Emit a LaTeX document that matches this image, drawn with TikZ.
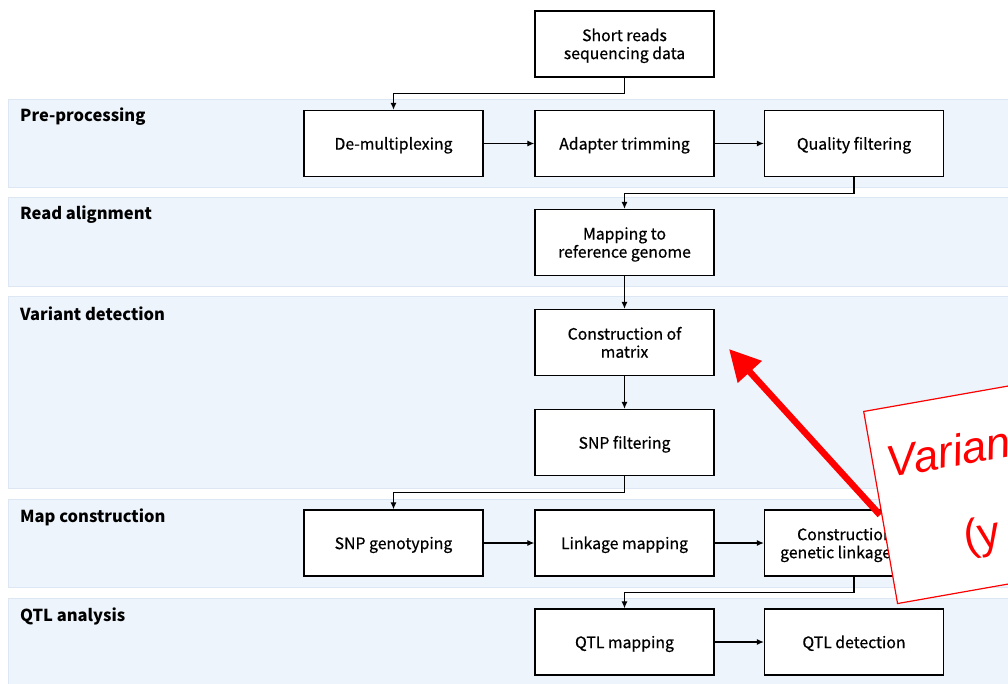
\documentclass[tikz,border=0pt]{standalone}
\usepackage{fontspec}
\setmainfont{Noto Sans CJK SC}
\newfontfamily\nodefont{Noto Sans CJK SC}[FakeBold=0.6]
\newfontfamily\handfont{Liberation Sans}
\usetikzlibrary{arrows.meta}
\definecolor{band}{HTML}{EDF4FB}
\definecolor{bandline}{HTML}{DCE7F3}
\definecolor{ared}{HTML}{FF0000}
\newcommand\bxt[1]{\raisebox{-2.5pt}[\height][\depth]{\begin{tabular}{@{}c@{}}#1\end{tabular}}}
\begin{document}
\begin{tikzpicture}[x=1pt,y=1pt,
 stepbox/.style={draw=black, line width=1.3pt, fill=white, minimum width=179pt, minimum height=66pt, align=center, font=\nodefont\fontsize{15.8}{18}\selectfont, inner sep=0pt},
 bandbox/.style={fill=band, draw=bandline, line width=0.8pt},
 lbl/.style={anchor=west, font=\fontsize{16.5}{20}\selectfont\bfseries, inner sep=0pt},
 conn/.style={line width=1.2pt, -{Latex[length=7pt,width=6pt]}}]
\useasboundingbox (0,0) rectangle (1008,-683);
\clip (0,0) rectangle (1008,-683);
\fill[white] (0,0) rectangle (1008,-683);
% bands
\draw[bandbox] (8,-99) rectangle (1020,-187);
\draw[bandbox] (8,-197) rectangle (1020,-286);
\draw[bandbox] (8,-296) rectangle (1020,-488);
\draw[bandbox] (8,-499) rectangle (1020,-587);
\draw[bandbox] (8,-598) rectangle (1020,-695);
% band labels
\node[lbl] (l1) at (20,-117) {Pre-processing};
\node[lbl] (l2) at (20,-215) {Read alignment};
\node[lbl] (l3) at (20,-314) {Variant detection};
\node[lbl] (l4) at (20,-517) {Map construction};
\node[lbl] (l5) at (20,-616) {QTL analysis};
% nodes
\node[stepbox] (short) at (624.5,-44) {\bxt{Short reads\\sequencing data}};
\node[stepbox] (demux) at (393.5,-143.5) {\bxt{De-multiplexing}};
\node[stepbox] (adapt) at (624.5,-143.5) {\bxt{Adapter trimming}};
\node[stepbox] (qual) at (854,-143.5) {\bxt{Quality filtering}};
\node[stepbox] (map) at (624.5,-242.5) {\bxt{Mapping to\\reference genome}};
\node[stepbox] (matrix) at (624.5,-342.5) {\bxt{Construction of\\matrix}};
\node[stepbox] (snpf) at (624.5,-442.5) {\bxt{SNP filtering}};
\node[stepbox] (snpg) at (393.5,-543) {\bxt{SNP genotyping}};
\node[stepbox] (link) at (624.5,-543) {\bxt{Linkage mapping}};
\node[stepbox] (cons) at (854,-543) {\bxt{Construction of\\genetic linkage map}};
\node[stepbox] (qtlm) at (624.5,-642) {\bxt{QTL mapping}};
\node[stepbox] (qtld) at (854,-642) {\bxt{QTL detection}};
% connectors
\draw[conn] (short.south) -- ++(0,-16) -| (demux.north);
\draw[conn] (demux) -- (adapt);
\draw[conn] (adapt) -- (qual);
\draw[conn] (qual.south) -- ++(0,-16) -| (map.north);
\draw[conn] (map) -- (matrix);
\draw[conn] (matrix) -- (snpf);
\draw[conn] (snpf.south) -- ++(0,-16) -| (snpg.north);
\draw[conn] (snpg) -- (link);
\draw[conn] (link) -- (cons);
\draw[conn] (cons.south) -- ++(0,-16) -| (qtlm.north);
\draw[conn] (qtlm) -- (qtld);
% annotation
\coordinate (tail) at (880,-515);
\coordinate (tip) at (729,-349);
\draw[ared, line width=6.5pt, -{Triangle[length=31pt,width=31pt]}] (tail) -- (tip);
\node[draw=ared, line width=1.2pt, fill=white, rotate=10, minimum width=330pt, minimum height=195pt, anchor=north west, inner sep=0pt] (note) at (863,-411) {};
\node[rotate=10, anchor=base west, text=ared, inner sep=0pt, font=\handfont\itshape\fontsize{44}{46}\selectfont] (t1) at (889,-478) {Variant};
\node[rotate=10, anchor=base west, text=ared, inner sep=0pt, font=\handfont\fontsize{44}{46}\selectfont] (t2) at (966,-552) {(y};
\end{tikzpicture}
\end{document}
